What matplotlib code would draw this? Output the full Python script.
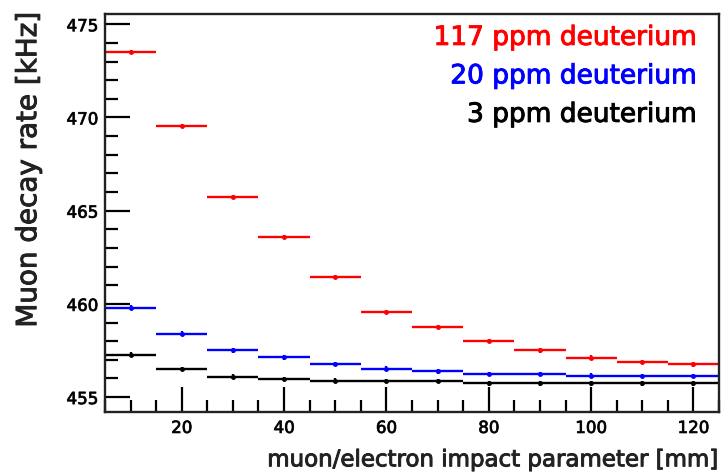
import numpy as np
import matplotlib
matplotlib.use("Agg")
import matplotlib.pyplot as plt
import matplotlib.patheffects as pe
from matplotlib.ticker import MultipleLocator

# impact parameter bins (centres, 10 mm wide)
impact = [10, 20, 30, 40, 50, 60, 70, 80, 90, 100, 110, 120]

# muon decay rate [kHz]
rate_117ppm = [473.5, 469.55, 465.72, 463.6, 461.45, 459.56, 458.75, 458.0, 457.5, 457.12, 456.88, 456.75]
rate_20ppm = [459.8, 458.4, 457.5, 457.13, 456.77, 456.52, 456.38, 456.25, 456.24, 456.15, 456.14, 456.12]
rate_3ppm = [457.28, 456.5, 456.1, 455.97, 455.88, 455.86, 455.85, 455.74, 455.74, 455.74, 455.74, 455.74]

series = [
    (rate_117ppm, "red", "117 ppm deuterium"),
    (rate_20ppm, "blue", "20 ppm deuterium"),
    (rate_3ppm, "black", "3 ppm deuterium"),
]

plt.rcParams['font.family'] = ['DejaVu Sans']


def heavy(col, lw=0.7):
    # thicken glyphs a bit, like the blurry original
    return [pe.withStroke(linewidth=lw, foreground=col)]


fig = plt.figure(figsize=(7.23, 4.76), dpi=100)
ax = fig.add_axes([0.1452, 0.1345, 0.8493, 0.8361])

for vals, col, lab in series:
    ax.errorbar(impact, vals, xerr=5, yerr=0.12, fmt='o', ms=2.5, color=col,
                ecolor=col, elinewidth=1.7, capsize=0)

ax.set_xlim(5, 125)
ax.set_ylim(454.2, 475.55)

ax.xaxis.set_major_locator(MultipleLocator(20))
ax.xaxis.set_minor_locator(MultipleLocator(5))
ax.yaxis.set_major_locator(MultipleLocator(5))
ax.yaxis.set_minor_locator(MultipleLocator(1))
ax.tick_params(which='both', direction='in', top=False, right=False, width=1.6,
               labelsize=12)
ax.tick_params(which='major', length=18, pad=5)
ax.tick_params(which='minor', length=9)
for lbl in ax.get_xticklabels() + ax.get_yticklabels():
    lbl.set_path_effects(heavy('#222222', 0.6))
for sp in ax.spines.values():
    sp.set_linewidth(1.7)
    sp.set_color('#222222')

fig.text(0.9945, 0.034, "muon/electron impact parameter [mm]", ha='right', va='center',
         fontsize=16.5, color='#222222', path_effects=heavy('#222222'))
fig.text(0.039, 0.975, "Muon decay rate [kHz]", ha='center', va='top', rotation=90,
         fontsize=20, color='#222222', path_effects=heavy('#222222'))

for i, (vals, col, lab) in enumerate(series):
    ax.text(0.964, 0.94 - i * 0.0967, lab, color=col, ha='right', va='center',
            fontsize=19, transform=ax.transAxes, path_effects=heavy(col))

fig.savefig("out.png", dpi=100)
